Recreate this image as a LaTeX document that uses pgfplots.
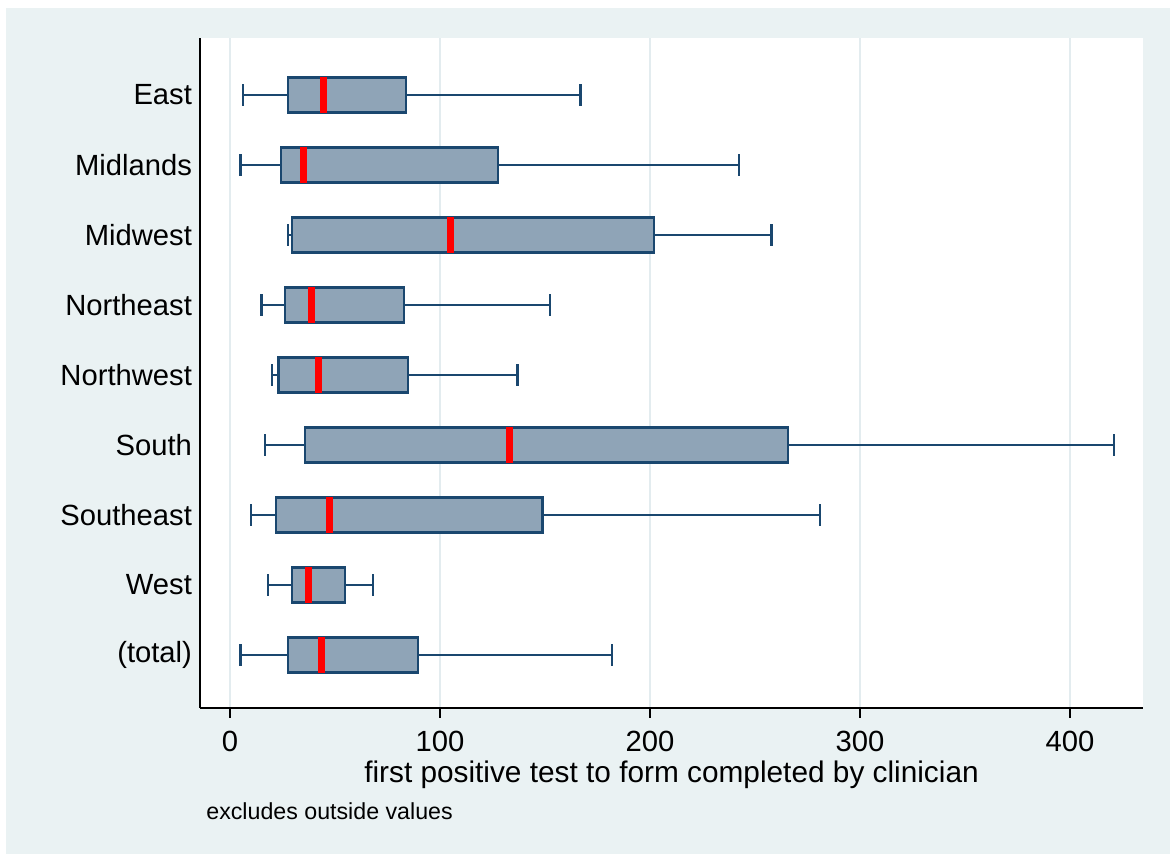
\documentclass[border=0pt]{standalone}
\usepackage{fontspec}
\setmainfont{Liberation Sans}
\usepackage{pgfplots}
\pgfplotsset{compat=1.18}
\usepgfplotslibrary{statistics}
\definecolor{bgc}{HTML}{EAF2F3}
\definecolor{navy}{HTML}{1A476F}
\definecolor{boxf}{HTML}{8FA4B7}
\definecolor{gridc}{HTML}{E3ECEF}
\begin{document}
\begin{tikzpicture}
\fill[white] (-100pt,-73pt) rectangle (485pt,354pt);
\fill[bgc] (-97pt,-73pt) rectangle (485pt,350pt);
\begin{axis}[
  at={(0pt,0pt)}, anchor=south west,
  scale only axis, width=471.5pt, height=335pt,
  xmin=-14.3, xmax=434.8, ymin=-0.757, ymax=8.814,
  axis background/.style={fill=white},
  axis x line*=bottom, axis y line*=left,
  axis line style={black, line width=0.9pt, -},
  xtick={0,100,200,300,400},
  xtick align=outside, major tick length=5pt,
  xtick style={black, line width=0.6pt},
  ytick={0,1,2,3,4,5,6,7,8},
  yticklabels={(total),West,Southeast,South,Northwest,Northeast,Midwest,Midlands,East},
  ytick style={draw=none},
  xmajorgrids, grid style={gridc, line width=1.2pt},
  tick label style={font=\fontsize{14.6}{17}\selectfont},
  xticklabel style={yshift=-3pt},
  yticklabel style={xshift=-0.5pt},
  /pgf/number format/assume math mode=true,
  clip=false,
  boxplot/box extend=0.51,
  boxplot/whisker extend=0.31,
  boxplot/every median/.style={draw=red, line width=3.5pt},
  xlabel={first positive test to form completed by clinician},
  xlabel style={at={(axis description cs:0.5,0)}, anchor=center, yshift=-33.5pt, font=\fontsize{14.9}{17}\selectfont},
]
\addplot[draw=navy, fill=boxf, line width=1.4pt, boxplot prepared={draw position=8, lower whisker=6.2, lower quartile=27.6, median=44.3, upper quartile=83.8, upper whisker=167}] coordinates {};
\addplot[draw=navy, fill=boxf, line width=1.4pt, boxplot prepared={draw position=7, lower whisker=4.8, lower quartile=24.3, median=34.8, upper quartile=127.6, upper whisker=242.4}] coordinates {};
\addplot[draw=navy, fill=boxf, line width=1.4pt, boxplot prepared={draw position=6, lower whisker=27.6, lower quartile=29.5, median=105.2, upper quartile=201.9, upper whisker=258}] coordinates {};
\addplot[draw=navy, fill=boxf, line width=1.4pt, boxplot prepared={draw position=5, lower whisker=14.8, lower quartile=26.2, median=39, upper quartile=82.9, upper whisker=152.4}] coordinates {};
\addplot[draw=navy, fill=boxf, line width=1.4pt, boxplot prepared={draw position=4, lower whisker=20, lower quartile=22.9, median=41.9, upper quartile=84.8, upper whisker=137}] coordinates {};
\addplot[draw=navy, fill=boxf, line width=1.4pt, boxplot prepared={draw position=3, lower whisker=16.7, lower quartile=35.7, median=132.9, upper quartile=265.7, upper whisker=421}] coordinates {};
\addplot[draw=navy, fill=boxf, line width=1.4pt, boxplot prepared={draw position=2, lower whisker=10, lower quartile=21.9, median=47.6, upper quartile=149, upper whisker=281}] coordinates {};
\addplot[draw=navy, fill=boxf, line width=1.4pt, boxplot prepared={draw position=1, lower whisker=18.1, lower quartile=29.5, median=37.6, upper quartile=54.8, upper whisker=68.1}] coordinates {};
\addplot[draw=navy, fill=boxf, line width=1.4pt, boxplot prepared={draw position=0, lower whisker=4.8, lower quartile=27.6, median=43.8, upper quartile=89.5, upper whisker=181.9}] coordinates {};
\node[anchor=west, inner sep=0pt, font=\fontsize{11.6}{13}\selectfont] at ([xshift=3pt, yshift=-51.5pt]axis description cs:0,0) {excludes outside values};
\end{axis}
\pgfresetboundingbox
\path[use as bounding box] (-100pt,-73pt) rectangle (485pt,354pt);
\end{tikzpicture}
\end{document}
